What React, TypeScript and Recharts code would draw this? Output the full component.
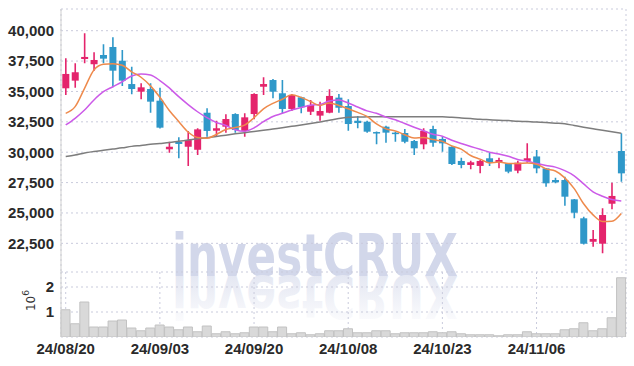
import React from 'react';
import { ComposedChart, Bar, Line, XAxis, YAxis, CartesianGrid } from 'recharts';

const dates = [
  '24/08/20', '24/08/21', '24/08/22', '24/08/23', '24/08/26', '24/08/27', '24/08/28', '24/08/29', '24/08/30', '24/09/02',
  '24/09/03', '24/09/04', '24/09/05', '24/09/06', '24/09/09', '24/09/10', '24/09/11', '24/09/12', '24/09/13', '24/09/19',
  '24/09/20', '24/09/23', '24/09/24', '24/09/25', '24/09/26', '24/09/27', '24/09/30', '24/10/02', '24/10/04', '24/10/07',
  '24/10/08', '24/10/10', '24/10/11', '24/10/14', '24/10/15', '24/10/16', '24/10/17', '24/10/18', '24/10/21', '24/10/22',
  '24/10/23', '24/10/24', '24/10/25', '24/10/28', '24/10/29', '24/10/30', '24/10/31', '24/11/01', '24/11/04', '24/11/05',
  '24/11/06', '24/11/07', '24/11/08', '24/11/11', '24/11/12', '24/11/13', '24/11/14', '24/11/15', '24/11/18', '24/11/19',
];

const opens = [
  35260, 35890, 37670, 37240, 38000, 38660, 37530, 35610, 34980, 35200,
  34240, 30240, 30840, 30450, 30200, 33250, 31770, 32100, 33140, 31750,
  33140, 35390, 35940, 34850, 33560, 34520, 33330, 33010, 33250, 34490,
  33800, 32590, 32510, 31660, 32100, 31610, 31580, 30920, 30650, 31910,
  31090, 30450, 29280, 28950, 28870, 29500, 29170, 29090, 28480, 29280,
  29650, 28670, 27710, 27710, 26120, 24560, 22630, 22470, 25760, 30100,
];
const highs = [
  37730, 37320, 39790, 38220, 38880, 39460, 38410, 37040, 35670, 35670,
  35310, 30860, 31230, 31750, 31970, 33610, 32590, 33120, 33200, 33200,
  34850, 36160, 36030, 35940, 34800, 34570, 34300, 34160, 35180, 34790,
  34360, 32980, 32590, 31700, 32180, 31660, 31910, 31000, 31970, 32180,
  31280, 30500, 29550, 29300, 29350, 29960, 29550, 29120, 29300, 30730,
  30180, 28700, 27900, 27980, 26150, 24690, 23600, 25380, 27490, 31560,
];
const lows = [
  34710, 35310, 37320, 36710, 37320, 35340, 35450, 34770, 34350, 33250,
  31950, 29960, 29500, 28860, 29770, 31280, 31280, 31610, 31610, 31280,
  32710, 34710, 34440, 33200, 33400, 33200, 33060, 32590, 33200, 33250,
  31770, 31970, 31610, 30650, 30780, 30860, 30730, 29770, 30240, 30450,
  30040, 28950, 28670, 28590, 28260, 28870, 28670, 28260, 28260, 29140,
  28260, 27160, 27440, 25600, 24560, 22400, 22220, 21680, 25300, 27570,
];
const closes = [
  36440, 36580, 37840, 37590, 37700, 36710, 35890, 35200, 35340, 34160,
  32020, 30450, 30680, 31000, 31880, 31750, 31970, 32730, 31830, 32870,
  34790, 35610, 34980, 33560, 34710, 33700, 33890, 33390, 34630, 33660,
  32320, 32400, 31690, 31560, 31610, 31500, 30860, 30320, 31750, 30780,
  30730, 29030, 28950, 29170, 29280, 29170, 29360, 28400, 29140, 29500,
  28670, 27440, 27520, 26340, 25020, 22470, 22860, 24830, 26400, 28260,
];
const volumes = [
  1090000, 530000, 1400000, 400000, 400000, 640000, 680000, 360000, 250000, 360000,
  480000, 400000, 290000, 400000, 210000, 440000, 130000, 210000, 130000, 170000,
  400000, 400000, 210000, 400000, 130000, 170000, 90000, 130000, 250000, 250000,
  330000, 170000, 170000, 250000, 250000, 130000, 170000, 170000, 170000, 210000,
  170000, 210000, 130000, 90000, 90000, 90000, 50000, 90000, 90000, 210000,
  130000, 130000, 130000, 290000, 330000, 570000, 250000, 330000, 770000, 2370000,
];
const ma5 = [
  33200, 33750, 35260, 36770, 37230, 37280, 37150, 36620, 36170, 35460,
  34520, 33430, 32530, 31660, 31210, 31150, 31460, 31870, 32030, 32230,
  32840, 33570, 34020, 34360, 34730, 34510, 34170, 33850, 34060, 33850,
  33580, 33280, 32940, 32330, 31920, 31750, 31440, 31170, 31210, 31040,
  30890, 30520, 30250, 29730, 29430, 29120, 29190, 29080, 29070, 29110,
  29010, 28630, 28450, 27890, 27000, 25760, 24840, 24300, 24320, 24960,
];
const ma10 = [
  32240, 32790, 33470, 34300, 34980, 35390, 35800, 36270, 36440, 36350,
  35900, 35290, 34570, 33920, 33330, 32840, 32450, 32200, 31850, 31720,
  32000, 32510, 32940, 33200, 33480, 33680, 33870, 33930, 34210, 34290,
  34050, 33720, 33400, 33200, 32890, 32670, 32360, 32060, 31770, 31480,
  31320, 30980, 30710, 30470, 30240, 30000, 29850, 29660, 29400, 29270,
  29070, 28910, 28770, 28480, 28060, 27390, 26740, 26380, 26110, 25980,
];
const ma60 = [
  29650, 29770, 29940, 30060, 30160, 30260, 30360, 30480, 30560, 30650,
  30720, 30790, 30900, 31000, 31110, 31190, 31300, 31400, 31510, 31610,
  31700, 31800, 31910, 32020, 32130, 32240, 32360, 32490, 32630, 32770,
  32870, 32900, 32910, 32920, 32920, 32920, 32920, 32920, 32920, 32920,
  32910, 32870, 32820, 32770, 32710, 32670, 32630, 32600, 32550, 32520,
  32480, 32440, 32390, 32340, 32200, 32060, 31930, 31800, 31680, 31560,
];

const priceTicks = [22500, 25000, 27500, 30000, 32500, 35000, 37500, 40000];
const volumeTicks = [1000000, 2000000];
const dateTicks = ['24/08/20', '24/09/03', '24/09/20', '24/10/08', '24/10/23', '24/11/06'];

const UP = '#e4246c';
const DOWN = '#2f98c9';
const GRID = '#c9cbdc';
const BORDER = '#cfcfcf';
const TICK_FONT = "'Liberation Sans Narrow', 'Liberation Sans', sans-serif";

const data = dates.map((d, i) => ({
  date: d,
  open: opens[i],
  high: highs[i],
  low: lows[i],
  close: closes[i],
  range: [lows[i], highs[i]],
  volume: volumes[i],
  ma5: ma5[i],
  ma10: ma10[i],
  ma60: ma60[i],
}));

const Candle = (props: any) => {
  const { x, y, width, height, payload } = props;
  if (!payload || width == null) return null;
  const { open, close, high, low } = payload;
  const color = close >= open ? UP : DOWN;
  const yTop = Math.min(y, y + height);
  const h = Math.abs(height);
  const ratio = h / (high - low);
  const bTop = yTop + (high - Math.max(open, close)) * ratio;
  const bBot = yTop + (high - Math.min(open, close)) * ratio;
  const cx = x + width / 2;
  return (
    <g>
      <line x1={cx} x2={cx} y1={yTop} y2={yTop + h} stroke={color} strokeWidth={1.6} />
      <rect x={x} y={bTop} width={width} height={Math.max(bBot - bTop, 1.5)} fill={color} />
    </g>
  );
};

const tickStyle = { fontFamily: TICK_FONT, fontSize: 15, fill: '#2a2a2a', fontWeight: 'bold' as const };

const VolLabel = (props: any) => {
  const vb = props.viewBox || {};
  const cx = (vb.x ?? 0) + 31;
  const cy = (vb.y ?? 272) + (vb.height ?? 65) / 2 - 4;
  return (
    <text
      x={cx}
      y={cy}
      transform={`rotate(-90, ${cx}, ${cy})`}
      textAnchor="middle"
      dominantBaseline="central"
      fontFamily="'DejaVu Sans', sans-serif"
      fontSize={12}
      fill="#333"
    >
      10<tspan dy={-5} fontSize={9}>6</tspan>
    </text>
  );
};

export default function App() {
  return (
    <div style={{ position: 'absolute', left: 0, top: 0, width: 634, height: 366, background: '#fff', overflow: 'hidden' }}>
      <svg width={634} height={366} style={{ position: 'absolute', left: 0, top: 0 }}>
        <defs>
          <linearGradient id="wmfade" x1="0" y1="0" x2="0" y2="1">
            <stop offset="0" stopColor="#ffffff" />
            <stop offset="1" stopColor="#dde1ef" />
          </linearGradient>
        </defs>
        <text
          x={172}
          y={276}
          fontFamily="'DejaVu Sans', sans-serif"
          fontWeight="bold"
          fontSize={58.5}
          textLength={286}
          lengthAdjust="spacingAndGlyphs"
          fill="#d2d7ea"
        >
          investCRUX
        </text>
        <g transform="translate(0,552) scale(1,-1)">
          <text
            x={172}
            y={276}
            fontFamily="'DejaVu Sans', sans-serif"
            fontWeight="bold"
            fontSize={58.5}
            textLength={286}
            lengthAdjust="spacingAndGlyphs"
            fill="url(#wmfade)"
          >
            investCRUX
          </text>
        </g>
      </svg>

      <div style={{ position: 'absolute', left: 0, top: 0 }}>
        <ComposedChart
          width={634}
          height={272}
          data={data}
          margin={{ top: 9, right: 8, bottom: 0, left: 0 }}
          barCategoryGap="14%"
        >
          <CartesianGrid strokeDasharray="2 3" stroke={GRID} />
          <XAxis
            dataKey="date"
            ticks={dateTicks}
            interval={0}
            height={0}
            tick={false}
            tickLine={false}
            axisLine={{ stroke: BORDER }}
          />
          <XAxis
            xAxisId="top"
            orientation="top"
            dataKey="date"
            height={0}
            tick={false}
            tickLine={false}
            axisLine={{ stroke: BORDER }}
          />
          <YAxis
            domain={[20141, 41786]}
            ticks={priceTicks}
            allowDataOverflow
            width={61}
            tickLine={false}
            tickSize={5}
            tickMargin={2}
            axisLine={{ stroke: BORDER }}
            tick={tickStyle}
            tickFormatter={(v: number) => v.toLocaleString('en-US')}
          />
          <YAxis
            yAxisId="right"
            orientation="right"
            domain={[0, 1]}
            width={0}
            tick={false}
            tickLine={false}
            axisLine={{ stroke: BORDER }}
          />
          <Bar dataKey="range" shape={(p: any) => <Candle {...p} />} isAnimationActive={false} />
          <Line type="monotone" dataKey="ma60" stroke="#7d7d7d" strokeWidth={1.5} dot={false} isAnimationActive={false} />
          <Line type="monotone" dataKey="ma10" stroke="#cc5ae8" strokeWidth={1.5} dot={false} isAnimationActive={false} />
          <Line type="monotone" dataKey="ma5" stroke="#ee8a4c" strokeWidth={1.5} dot={false} isAnimationActive={false} />
        </ComposedChart>
      </div>

      <div style={{ position: 'absolute', left: 0, top: 272 }}>
        <ComposedChart
          width={634}
          height={94}
          data={data}
          margin={{ top: 0, right: 8, bottom: 0, left: 0 }}
          barCategoryGap={0}
        >
          <CartesianGrid strokeDasharray="2 3" stroke={GRID} />
          <XAxis
            dataKey="date"
            ticks={dateTicks}
            interval={0}
            height={29}
            tickLine={false}
            tickSize={4}
            tickMargin={2}
            axisLine={false}
            tick={tickStyle}
          />
          <YAxis
            domain={[0, 2600000]}
            ticks={volumeTicks}
            allowDataOverflow
            width={61}
            tickLine={false}
            tickSize={5}
            tickMargin={2}
            axisLine={{ stroke: BORDER }}
            tick={tickStyle}
            tickFormatter={(v: number) => String(v / 1000000)}
            label={(p: any) => <VolLabel {...p} />}
          />
          <YAxis
            yAxisId="right"
            orientation="right"
            domain={[0, 1]}
            width={0}
            tick={false}
            tickLine={false}
            axisLine={{ stroke: BORDER }}
          />
          <Bar dataKey="volume" fill="#d9d9d9" stroke="#c2c2c2" strokeWidth={1} isAnimationActive={false} />
        </ComposedChart>
      </div>
    </div>
  );
}
